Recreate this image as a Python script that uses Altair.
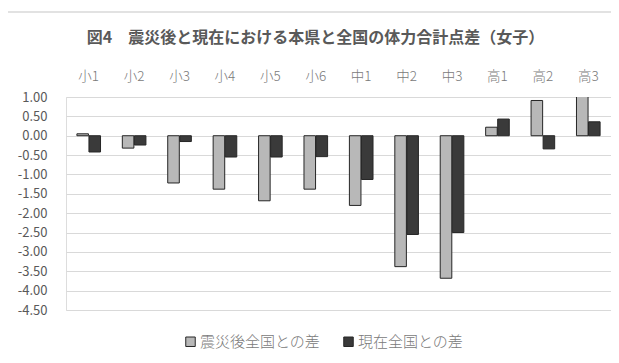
import altair as alt
import pandas as pd

categories = ["小1", "小2", "小3", "小4", "小5", "小6", "中1", "中2", "中3", "高1", "高2", "高3"]
series_names = ["震災後全国との差", "現在全国との差"]
after_quake = [0.05, -0.32, -1.22, -1.38, -1.68, -1.38, -1.80, -3.38, -3.68, 0.22, 0.91, 1.02]
current = [-0.42, -0.24, -0.15, -0.55, -0.55, -0.54, -1.13, -2.55, -2.50, 0.43, -0.34, 0.36]
y_ticks = [1.0, 0.5, 0.0, -0.5, -1.0, -1.5, -2.0, -2.5, -3.0, -3.5, -4.0, -4.5]

rows = []
for c, a, b in zip(categories, after_quake, current):
    rows.append({"cat": c, "series": series_names[0], "value": a})
    rows.append({"cat": c, "series": series_names[1], "value": b})
df = pd.DataFrame(rows)

FONT = "Noto Sans CJK JP"
TXT = "#595959"
LIGHT = "#7a7a7a"

bars = alt.Chart(df).mark_bar(stroke="#262626", strokeWidth=1, clip=True).encode(
    x=alt.X("cat:N", sort=categories,
            scale=alt.Scale(paddingInner=0.48, paddingOuter=0.24),
            axis=alt.Axis(orient="top", title=None, labelAngle=0, ticks=False, domain=False,
                          labelFontSize=13.5, labelColor=LIGHT, labelFont=FONT, labelFontWeight=300,
                          labelPadding=14, grid=False)),
    xOffset=alt.XOffset("series:N", sort=series_names, scale=alt.Scale(paddingInner=0.04)),
    y=alt.Y("value:Q", scale=alt.Scale(domain=[-4.5, 1.0], nice=False, zero=False),
            axis=alt.Axis(title=None, values=y_ticks, ticks=False, domain=False,
                          labelExpr="replace(format(datum.value, '.2f'), '\u2212', '-')",
                          labelFontSize=13, labelColor=TXT, labelFont=FONT, labelPadding=19,
                          gridColor="#d9d9d9", gridWidth=1)),
    fill=alt.Fill("series:N", sort=series_names,
                  scale=alt.Scale(domain=series_names, range=["#b8b8b8", "#3a3a3a"]),
                  legend=alt.Legend(orient="none", legendX=117, legendY=237, direction="horizontal",
                                    title=None, symbolType="square", symbolSize=90,
                                    symbolStrokeColor="#262626", symbolStrokeWidth=1,
                                    labelFontSize=15, labelColor=LIGHT, labelFont=FONT,
                                    labelFontWeight=300, columnPadding=20, labelOffset=2)),
)

border = alt.Chart(pd.DataFrame({"a": [0]})).mark_rect(
    fill=None, stroke="#d9d9d9", strokeWidth=1.5, clip=False
).encode(x=alt.value(-60), x2=alt.value(700), y=alt.value(-85), y2=alt.value(400))

chart = alt.layer(border, bars).properties(
    width=545, height=213,
    padding={"left": 58, "top": 89, "right": 0, "bottom": 45},
    autosize=alt.AutoSizeParams(type="none"),
    title=alt.TitleParams("図4　震災後と現在における本県と全国の体力合計点差（女子）",
                          font=FONT, fontSize=16, fontWeight="bold", color=TXT,
                          anchor="middle", dx=-23, offset=-35),
).configure_view(stroke=None).configure(background="white")

chart.save("out.html", embed_options={"renderer": "svg", "actions": False})
